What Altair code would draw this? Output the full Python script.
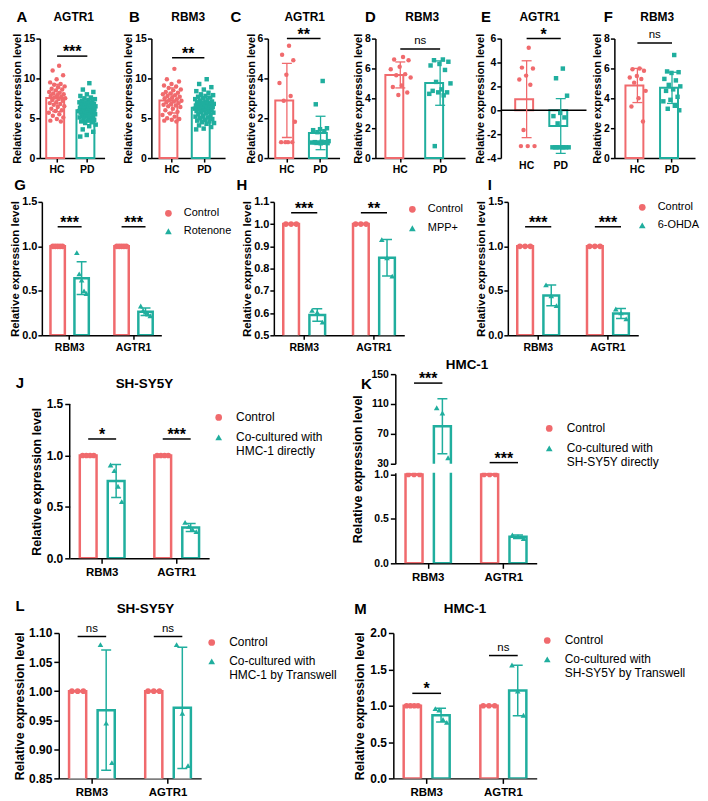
import altair as alt
import pandas as pd

RED = "#F06A6D"
TEAL = "#20AE9E"
FONT = "Liberation Sans"
YT = "Relative expression level"
GENES = ["RBM3", "AGTR1"]

# ---------------- Panels A-F : individual values (HC vs PD) ----------------
A_HC = [11.6, 11.0, 10.4, 9.9, 9.5, 9.3, 9.2, 9.0, 8.9, 8.7, 8.6, 8.5, 8.3, 8.2, 8.1, 8.0, 7.9, 7.8, 7.7, 7.6,
        7.5, 7.4, 7.3, 7.2, 7.0, 6.9, 6.8, 6.7, 6.5, 6.4, 6.2, 6.0, 5.9, 5.7, 5.5, 5.3, 5.1, 4.9, 4.7, 4.6]
A_PD = [9.4, 8.6, 8.3, 8.0, 7.8, 7.6, 7.5, 7.4, 7.3, 7.2, 7.1, 7.0, 7.0, 6.9, 6.9, 6.8, 6.8, 6.7, 6.6, 6.6,
        6.5, 6.5, 6.4, 6.4, 6.3, 6.3, 6.2, 6.2, 6.1, 6.1, 6.0, 6.0, 6.0, 5.9, 5.9, 5.8, 5.8, 5.7, 5.7, 5.6,
        5.5, 5.5, 5.4, 5.3, 5.3, 5.2, 5.1, 5.0, 4.9, 4.8, 4.7, 4.6, 4.5, 4.4, 4.2, 4.0, 3.6, 3.3, 2.9, 2.7]
B_HC = [11.2, 9.9, 9.6, 9.3, 9.1, 9.0, 8.8, 8.6, 8.5, 8.3, 8.2, 8.1, 8.0, 7.9, 7.8, 7.7, 7.6, 7.5, 7.4, 7.3,
        7.2, 7.1, 7.0, 6.9, 6.8, 6.7, 6.6, 6.5, 6.4, 6.2, 6.0, 5.8, 5.6, 5.4, 5.2, 5.0, 4.9, 4.8, 4.7, 4.6]
B_PD = [9.9, 9.3, 8.9, 8.6, 8.4, 8.2, 8.0, 7.9, 7.8, 7.7, 7.6, 7.5, 7.4, 7.3, 7.2, 7.1, 7.0, 7.0, 6.9, 6.9,
        6.8, 6.8, 6.7, 6.7, 6.6, 6.6, 6.5, 6.5, 6.4, 6.4, 6.3, 6.3, 6.2, 6.2, 6.1, 6.1, 6.0, 6.0, 5.9, 5.8,
        5.8, 5.7, 5.6, 5.5, 5.4, 5.3, 5.2, 5.1, 5.0, 4.9, 4.8, 4.7, 4.6, 4.5, 4.4, 4.3, 4.1, 3.9, 3.7, 3.6]
C_HC = [5.64, 5.19, 4.91, 4.18, 3.77, 3.12, 2.88, 1.82, 0.80, 0.80, 0.80, 0.80]
C_PD = [3.87, 2.70, 1.50, 1.45, 1.40, 1.35, 1.30, 0.85, 0.82, 0.80, 0.80, 0.78, 0.78, 0.77, 0.76, 0.75, 0.74]
D_HC = [6.77, 6.60, 6.55, 6.12, 5.95, 5.62, 5.55, 5.40, 4.86, 4.76, 4.39, 4.22]
D_PD = [6.60, 6.55, 6.45, 6.30, 6.20, 5.90, 5.10, 5.00, 4.60, 4.50, 4.40, 4.40, 4.30, 4.20, 0.80]
E_HC = [5.24, 3.57, 3.49, 2.90, 2.57, 2.14, -1.65, -3.0, -3.0, -3.0]
E_PD = [3.49, 2.68, 1.22, -0.22, -0.49, -0.60, -1.10, -3.1, -3.1, -3.1, -3.1, -3.1, -3.1, -3.1, -3.1]
F_HC = [6.0, 5.95, 5.85, 5.5, 5.4, 5.3, 5.05, 4.5, 4.0, 3.45, 2.45]
F_PD = [6.9, 5.8, 5.75, 5.7, 5.3, 5.2, 4.9, 4.8, 4.6, 4.5, 4.1, 3.9, 3.8, 3.5, 3.3, 3.2]

# ---------------- Panels G-M : Control vs treatment per gene ----------------
G_CTRL_RBM3 = [1.0, 1.0, 1.0, 1.0, 1.0]
G_TRT_RBM3 = [0.93, 0.69, 0.62, 0.50, 0.47]
G_CTRL_AGTR1 = [1.0, 1.0, 1.0, 1.0, 1.0]
G_TRT_AGTR1 = [0.33, 0.28, 0.26, 0.24, 0.22]

H_CTRL_RBM3 = [1.0, 1.0, 1.0]
H_TRT_RBM3 = [0.612, 0.603, 0.559]
H_CTRL_AGTR1 = [1.0, 1.0, 1.0]
H_TRT_AGTR1 = [0.930, 0.849, 0.766]

I_CTRL_RBM3 = [1.0, 1.0, 1.0]
I_TRT_RBM3 = [0.567, 0.444, 0.333]
I_CTRL_AGTR1 = [1.0, 1.0, 1.0]
I_TRT_AGTR1 = [0.296, 0.252, 0.185]

J_CTRL_RBM3 = [1.0, 1.0, 1.0, 1.0]
J_TRT_RBM3 = [0.907, 0.852, 0.700, 0.551]
J_CTRL_AGTR1 = [1.0, 1.0, 1.0, 1.0]
J_TRT_AGTR1 = [0.35, 0.31, 0.28, 0.26]

K_CTRL_RBM3 = [1.0, 1.0, 1.0]
K_TRT_RBM3 = [105.0, 98.0, 38.0]
K_CTRL_AGTR1 = [1.0, 1.0, 1.0]
K_TRT_AGTR1 = [0.318, 0.300, 0.280]

L_CTRL_RBM3 = [1.0, 1.0, 1.0]
L_TRT_RBM3 = [1.080, 0.945, 0.877]
L_CTRL_AGTR1 = [1.0, 1.0, 1.0]
L_TRT_AGTR1 = [1.080, 0.962, 0.872]

M_CTRL_RBM3 = [1.0, 1.0, 1.0, 1.0]
M_TRT_RBM3 = [0.96, 0.94, 0.81, 0.77]
M_CTRL_AGTR1 = [1.0, 1.0, 1.0]
M_TRT_AGTR1 = [1.56, 1.20, 0.868]

# significance annotations
SIG_ABCDEF = [(12.8, "***"), (12.6, "**"), (6.0, "**"), (7.3, "ns"), (6.0, "*"), (7.7, "ns")]
SIG_G = [("RBM3", 1.22, "***"), ("AGTR1", 1.22, "***")]
SIG_H = [("RBM3", 1.051, "***"), ("AGTR1", 1.051, "**")]
SIG_I = [("RBM3", 1.22, "***"), ("AGTR1", 1.22, "***")]
SIG_J = [("RBM3", 1.16, "*"), ("AGTR1", 1.16, "***")]
SIG_K = [("RBM3", 138.0, "***"), ("AGTR1", 31.5, "***")]
SIG_L = [("RBM3", 1.094, "ns"), ("AGTR1", 1.094, "ns")]
SIG_M = [("RBM3", 1.17, "*"), ("AGTR1", 1.69, "ns")]

EMPTY = pd.DataFrame({"a": pd.Series([], dtype=float)})


def ind(c):
    return c.resolve_scale(color="independent", shape="independent",
                           xOffset="independent").resolve_legend(color="independent", shape="independent")


def hsp(w):
    return alt.Chart(EMPTY).mark_point().encode(x=alt.value(0), y=alt.value(0)).properties(
        width=max(1, round(w)), height=1)


def vsp(h):
    return alt.Chart(EMPTY).mark_point().encode(x=alt.value(0), y=alt.value(0)).properties(
        width=1, height=max(1, round(h)))


def text_layer(txt, x, y, size, weight="bold"):
    return alt.Chart(pd.DataFrame({"t": [txt]})).mark_text(
        fontSize=size, fontWeight=weight, align="center", baseline="middle", color="black"
    ).encode(x=alt.value(x), y=alt.value(y), text="t:N")


def sig_text_layers(df, X, Y, XO):
    star = alt.Chart(df).transform_filter("datum.t != 'ns'").mark_text(
        fontSize=16, fontWeight="bold", baseline="alphabetic", dy=1, color="black"
    ).encode(X, Y("y:Q"), XO, text="t:N")
    ns = alt.Chart(df).transform_filter("datum.t == 'ns'").mark_text(
        fontSize=11.5, fontWeight="normal", baseline="alphabetic", dy=-5, color="black"
    ).encode(X, Y("y:Q"), XO, text="t:N")
    return [star, ns]


def eq(field, value):
    return alt.FieldEqualPredicate(field=field, equal=value)


def scatter_panel(letter, gene, hc, pdv, ydom, yvals, sig, w, h, pi, po,
                  letter_x, title_x, zero_line=False):
    groups = ["HC", "PD"]
    cols = [RED, TEAL]
    df = pd.DataFrame({"grp": ["HC"] * len(hc) + ["PD"] * len(pdv), "val": list(hc) + list(pdv)})
    xsc = alt.Scale(domain=groups, paddingInner=pi, paddingOuter=po)
    xax = alt.Axis(title=None, labelAngle=0, labelFontSize=10.5, tickSize=4, labelPadding=2,
                   domain=not zero_line, ticks=not zero_line)
    X = alt.X("grp:N", scale=xsc, axis=xax)
    ysc = alt.Scale(domain=ydom, nice=False, zero=False)
    yax = alt.Axis(title=YT, values=yvals, labelExpr="'' + datum.value", labelFontSize=10.5,
                   titleFontSize=11, tickSize=4, labelPadding=1, titlePadding=1)

    def Y(f):
        return alt.Y(f, scale=ysc, axis=yax)

    qoff = alt.Scale(domain=[0, 1])
    base = alt.Chart(df)
    agg = base.transform_aggregate(m="mean(val)", sd="stdev(val)", groupby=["grp"]).transform_calculate(
        lo="datum.m - datum.sd", hi="datum.m + datum.sd", c="0.5")
    XO = alt.XOffset("c:Q", scale=qoff)
    layers = []
    for g, col in zip(groups, cols):
        layers.append(agg.transform_filter(eq("grp", g)).mark_bar(fill="white", stroke=col, strokeWidth=2)
                      .encode(X, Y("m:Q")))
    if zero_line:
        layers.append(alt.Chart(pd.DataFrame({"z": [0]})).mark_rule(color="black", strokeWidth=1.5)
                      .encode(Y("z:Q")))
    for g, col in zip(groups, cols):
        a = agg.transform_filter(eq("grp", g))
        layers.append(a.mark_rule(strokeWidth=1.3, color=col).encode(X, XO, Y("lo:Q"), y2="hi:Q"))
        for k in ["lo", "hi"]:
            layers.append(a.mark_tick(size=10, thickness=1.3, opacity=1, color=col).encode(X, XO, Y(k + ":Q")))
    pts = base.transform_window(rn="row_number()", groupby=["grp"]).transform_calculate(
        jit="0.5 + ((datum.rn * 0.618034) % 1 - 0.5) * 0.78")
    layers.append(pts.mark_point(filled=True, opacity=1, size=20, strokeWidth=0).encode(
        X, Y("val:Q"), alt.XOffset("jit:Q", scale=qoff),
        color=alt.Color("grp:N", scale=alt.Scale(domain=groups, range=cols), legend=None),
        shape=alt.Shape("grp:N", scale=alt.Scale(domain=groups, range=["circle", "square"]), legend=None)))
    sy, st = sig
    layers.append(alt.Chart(pd.DataFrame({"grp": groups, "y": [sy, sy], "c": [0.5, 0.5]}))
                  .mark_line(color="black", strokeWidth=1.5).encode(X, Y("y:Q"), XO))
    mid = 0.5 + 0.5 / (1 - pi)
    tdf = pd.DataFrame({"grp": ["HC"], "y": [sy], "c": [mid], "t": [st]})
    layers += sig_text_layers(tdf, X, Y, XO)
    layers.append(text_layer(letter, letter_x, -22, 15))
    layers.append(text_layer(gene, title_x, -22, 12))
    return alt.layer(*layers).properties(width=w, height=h)


def long_df(treat, lists):
    rows = []
    for g, (c, t) in zip(GENES, lists):
        rows += [{"gene": g, "grp": "Control", "val": v} for v in c]
        rows += [{"gene": g, "grp": treat, "val": v} for v in t]
    return pd.DataFrame(rows)


def mk_legend(lx, ly, row_pad, fs=12, loff=11.5):
    return alt.Legend(title=None, orient="none", legendX=lx, legendY=ly, labelFontSize=fs,
                      labelFontWeight="normal", symbolSize=45, symbolStrokeWidth=0, rowPadding=row_pad,
                      labelOffset=loff, labelColor="black", labelLimit=300, padding=0,
                      labelExpr="split(datum.label, '|')")


def group_panel(df, treat, ydom, yvals, yfmt, sigs, w, h, legend, letter=None, letter_xy=None,
                title=None, title_xy=None, show_x=True, ytitle=YT, title_y=None,
                fs_lab=12, fs_xlab=None, fs_title=12.5, tick=5, lpad=2, tpad=3, pi=0.25, po=0.06,
                axis_top=None):
    groups = ["Control", treat]
    cols = [RED, TEAL]
    xsc = alt.Scale(domain=GENES, paddingInner=pi, paddingOuter=po)
    fx = fs_xlab if fs_xlab is not None else fs_lab - 0.5
    xax = alt.Axis(title=None, labelAngle=0, labelFontSize=fx, tickSize=tick, labelPadding=3) if show_x else None
    X = alt.X("gene:N", scale=xsc, axis=xax, sort=GENES)
    ysc = alt.Scale(domain=ydom, nice=False, zero=False)
    ykw = dict(values=yvals, format=yfmt, labelFontSize=fs_lab, tickSize=tick, labelPadding=lpad,
               titleFontSize=fs_title, titlePadding=tpad, title=ytitle)
    if title_y is not None:
        ykw["titleY"] = title_y
    if axis_top is not None:
        ykw["domain"] = False
    yax = alt.Axis(**ykw)

    def Y(f):
        return alt.Y(f, scale=ysc, axis=yax)

    qoff = alt.Scale(domain=[0, 1])
    boff = alt.XOffset("grp:N", scale=alt.Scale(domain=groups, paddingInner=0.4, paddingOuter=0.2))
    base = alt.Chart(df)
    agg = base.transform_aggregate(m="mean(val)", sd="stdev(val)", groupby=["gene", "grp"]).transform_calculate(
        lo="datum.m - datum.sd", hi="datum.m + datum.sd",
        c="datum.grp == 'Control' ? 0.25 : 0.75")
    XO = alt.XOffset("c:Q", scale=qoff)
    layers = []
    if axis_top is not None:
        layers.append(alt.Chart(pd.DataFrame({"a": [ydom[0]], "b": [axis_top]})).mark_rule(
            color="black", strokeWidth=1.5).encode(x=alt.value(0), y=Y("a:Q"), y2="b:Q"))
    for g, col in zip(groups, cols):
        layers.append(agg.transform_filter(eq("grp", g)).transform_filter("datum.m > %f" % ydom[0])
                      .mark_bar(fill="white", stroke=col, strokeWidth=2.5, clip=True)
                      .encode(X, Y("m:Q"), boff, y2=alt.datum(0)))
    for g, col in zip(groups, cols):
        a = agg.transform_filter(eq("grp", g))
        layers.append(a.mark_rule(strokeWidth=1.5, color=col, clip=True).encode(X, XO, Y("lo:Q"), y2="hi:Q"))
        for k in ["lo", "hi"]:
            layers.append(a.mark_tick(size=10, thickness=1.5, opacity=1, color=col, clip=True)
                          .encode(X, XO, Y(k + ":Q")))
    pts = base.transform_window(rn="row_number()", groupby=["gene", "grp"]).transform_joinaggregate(
        cnt="count()", groupby=["gene", "grp"]).transform_calculate(
        off="(datum.grp == 'Control' ? 0.25 : 0.75) + (datum.cnt > 1 ? ((datum.rn - 1) / (datum.cnt - 1) - 0.5) * 0.2 : 0)")
    layers.append(pts.mark_point(filled=True, opacity=1, size=32, strokeWidth=0, clip=True).encode(
        X, Y("val:Q"), alt.XOffset("off:Q", scale=qoff),
        color=alt.Color("grp:N", scale=alt.Scale(domain=groups, range=cols), legend=legend),
        shape=alt.Shape("grp:N", scale=alt.Scale(domain=groups, range=["circle", "triangle-up"]), legend=legend)))
    if sigs:
        lrows, trows = [], []
        for g, yv, lab in sigs:
            lrows += [{"gene": g, "y": yv, "c": 0.25}, {"gene": g, "y": yv, "c": 0.75}]
            trows.append({"gene": g, "y": yv, "c": 0.5, "t": lab})
        layers.append(alt.Chart(pd.DataFrame(lrows)).mark_line(color="black", strokeWidth=1.5).encode(
            X, Y("y:Q"), XO, detail="gene:N"))
        layers += sig_text_layers(pd.DataFrame(trows), X, Y, XO)
    if letter:
        layers.append(text_layer(letter, letter_xy[0], letter_xy[1], 15))
    if title:
        layers.append(text_layer(title, title_xy[0], title_xy[1], 13.5))
    return alt.layer(*layers).properties(width=w, height=h).resolve_scale(xOffset="independent")


# ---------------- row 1 ----------------
H1 = 120
pA = scatter_panel("A", "AGTR1", A_HC, A_PD, [0, 15], [0, 5, 10, 15], SIG_ABCDEF[0], 65, H1, 0.28, 0.21, -18, 34)
pB = scatter_panel("B", "RBM3", B_HC, B_PD, [0, 15], [0, 5, 10, 15], SIG_ABCDEF[1], 74, H1, 0.22, 0.25, -17, 37)
pC = scatter_panel("C", "AGTR1", C_HC, C_PD, [0, 6], [0, 2, 4, 6], SIG_ABCDEF[2], 72, H1, 0.31, 0.22, -32, 37)
pD = scatter_panel("D", "RBM3", D_HC, D_PD, [0, 8], [0, 2, 4, 6, 8], SIG_ABCDEF[3], 90, H1, 0.25, 0.25, -5, 47)
pE = scatter_panel("E", "AGTR1", E_HC, E_PD, [-4, 6], [-4, -2, 0, 2, 4, 6], SIG_ABCDEF[4], 86, H1, 0.33, 0.42, -15, 39,
                   zero_line=True)
pF = scatter_panel("F", "RBM3", F_HC, F_PD, [0, 8], [0, 2, 4, 6, 8], SIG_ABCDEF[5], 81, H1, 0.31, 0.32, -6, 43)

# ---------------- row 2 ----------------
H2 = 134
R2 = dict(fs_lab=11, fs_title=11.5, tick=4, lpad=1, tpad=1)
pG = group_panel(long_df("Rotenone", [(G_CTRL_RBM3, G_TRT_RBM3), (G_CTRL_AGTR1, G_TRT_AGTR1)]), "Rotenone",
                 [0, 1.5], [0, 0.5, 1.0, 1.5], ".1f", SIG_G, 120, H2, mk_legend(121.6, 6, 6, 11, 10),
                 letter="G", letter_xy=(-22, -17), **R2)
pH = group_panel(long_df("MPP+", [(H_CTRL_RBM3, H_TRT_RBM3), (H_CTRL_AGTR1, H_TRT_AGTR1)]), "MPP+",
                 [0.5, 1.1], [0.5, 0.6, 0.7, 0.8, 0.9, 1.0, 1.1], ".1f", SIG_H, 131, H2,
                 mk_legend(133.6, 2, 7, 11, 10), letter="H", letter_xy=(-32, -17), **R2)
pI = group_panel(long_df("6-OHDA", [(I_CTRL_RBM3, I_TRT_RBM3), (I_CTRL_AGTR1, I_TRT_AGTR1)]), "6-OHDA",
                 [0, 1.5], [0, 0.5, 1.0, 1.5], ".1f", SIG_I, 131, H2, mk_legend(129.5, 0, 6, 11, 10),
                 letter="I", letter_xy=(-18, -17), **R2)

# ---------------- row 3 ----------------
J_TREAT = "Co-cultured with|HMC-1 directly"
pJ = group_panel(long_df(J_TREAT, [(J_CTRL_RBM3, J_TRT_RBM3), (J_CTRL_AGTR1, J_TRT_AGTR1)]),
                 J_TREAT, [0, 1.5 * 185 / 155], [0, 0.5, 1.0, 1.5], ".1f", SIG_J, 140, 185,
                 mk_legend(143.6, 37.5, 8), letter="J", letter_xy=(-50, 9), title="SH-SY5Y", title_xy=(75, 10),
                 axis_top=1.5, title_y=107.5)
K_TREAT = "Co-cultured with|SH-SY5Y directly"
K_DF = long_df(K_TREAT, [(K_CTRL_RBM3, K_TRT_RBM3), (K_CTRL_AGTR1, K_TRT_AGTR1)])
pK_up = group_panel(K_DF, K_TREAT, [30, 150], [30, 70, 110, 150], "d", SIG_K, 142, 90,
                    mk_legend(148.6, 48.5, 8), letter="K", letter_xy=(-29, 10),
                    title="HMC-1", title_xy=(72, -9), show_x=False, ytitle=None, fs_lab=10.5)
pK_lo = group_panel(K_DF, K_TREAT, [0, 1.02], [0, 0.5, 1.0], ".1f", [], 142, 91, None, title_y=-4, tpad=9,
                    fs_lab=10.5, fs_xlab=11.5)
pK = ind(alt.vconcat(pK_up, pK_lo, spacing=9, bounds="flush"))

# ---------------- row 4 ----------------
L_TREAT = "Co-cultured with|HMC-1 by Transwell"
pL = group_panel(long_df(L_TREAT, [(L_CTRL_RBM3, L_TRT_RBM3), (L_CTRL_AGTR1, L_TRT_AGTR1)]),
                 L_TREAT, [0.85, 1.10], [0.85, 0.90, 0.95, 1.00, 1.05, 1.10], ".2f",
                 SIG_L, 143, 146, mk_legend(147.6, 3.5, 7), letter="L", letter_xy=(-39, -27),
                 title="SH-SY5Y", title_xy=(87, -24), tpad=2)
M_TREAT = "Co-cultured with|SH-SY5Y by Transwell"
pM = group_panel(long_df(M_TREAT, [(M_CTRL_RBM3, M_TRT_RBM3), (M_CTRL_AGTR1, M_TRT_AGTR1)]),
                 M_TREAT, [0, 2.0], [0, 0.5, 1.0, 1.5, 2.0], ".1f",
                 SIG_M, 144, 146, mk_legend(148.6, 1.5, 7), letter="M", letter_xy=(-33, -24),
                 title="HMC-1", title_xy=(72, -24))

# rows: plot areas placed with flush bounds; spacer widths give the gaps between plot areas
row1 = ind(alt.hconcat(hsp(32), pA, hsp(47), pB, hsp(43), pC, hsp(36), pD, hsp(36), pE, hsp(28), pF,
                       spacing=0, bounds="flush"))
row2 = ind(alt.hconcat(hsp(34), pG, hsp(113), pH, hsp(104), pI, spacing=0, bounds="flush"))
row3 = ind(alt.hconcat(hsp(62), pJ, hsp(187), pK, spacing=0, bounds="flush"))
row4 = ind(alt.hconcat(hsp(51), pL, hsp(193), pM, spacing=0, bounds="flush"))

top = ind(alt.vconcat(row1, vsp(3), row2, vsp(5), row3, vsp(16), row4, spacing=0))

chart = top.properties(padding={"left": 0, "top": 0, "right": 0, "bottom": 0}, background="white").configure(
    font=FONT).configure_view(stroke=None).configure_axis(
    domainColor="black", tickColor="black", labelColor="black", titleColor="black",
    domainWidth=1.5, tickWidth=1.5, grid=False, labelFontWeight="bold", titleFontWeight="bold",
    labelFont=FONT, titleFont=FONT)

chart.save("out.html", embed_options={"renderer": "svg", "actions": False})
